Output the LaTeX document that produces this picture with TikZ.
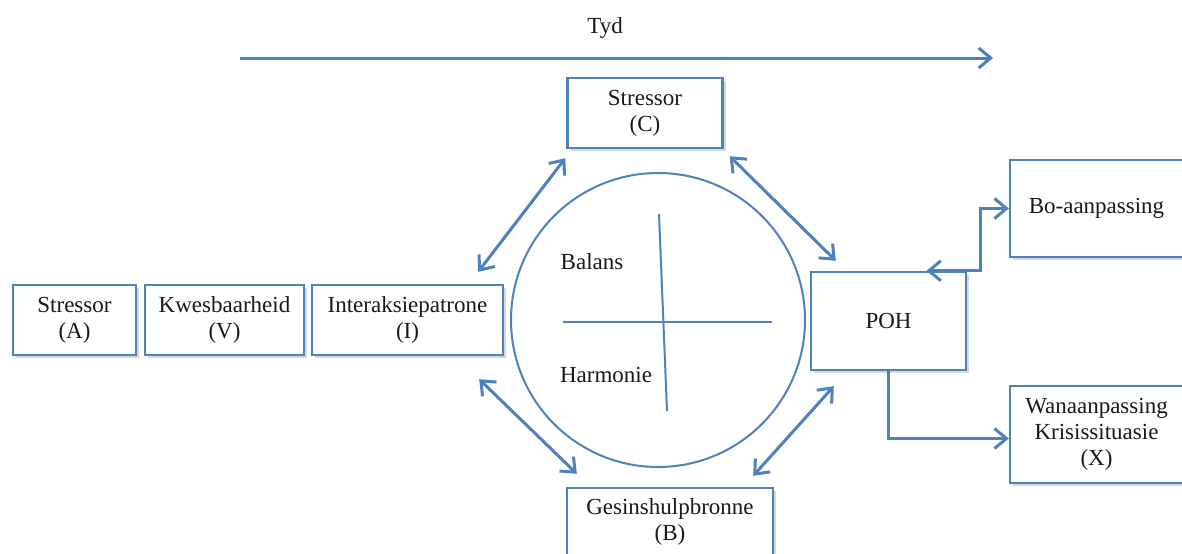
\documentclass[tikz,border=0pt]{standalone}
\usepackage{fontspec}
\setmainfont{Liberation Serif}
\usetikzlibrary{arrows.meta,shadows}
\definecolor{sblue}{RGB}{79,129,189}
\begin{document}
\begin{tikzpicture}[x=0.5pt,y=-0.5pt,
  txt/.style={font=\fontsize{11.5}{13}\selectfont, align=center, text=black!90},
  box/.style={txt, draw=sblue, line width=1.2pt, fill=white, inner sep=0pt,
    drop shadow={opacity=0.3, shadow xshift=1.5pt, shadow yshift=-1.5pt}},
  arr/.style={draw=sblue, line width=1.5pt, -{Straight Barb[length=6pt,width=10pt,line width=1.5pt]}},
  dbl/.style={draw=sblue, line width=1.5pt, {Straight Barb[length=6pt,width=10pt,line width=1.5pt]}-{Straight Barb[length=6pt,width=10pt,line width=1.5pt]}},
  thin/.style={draw=sblue, line width=1pt}]
\useasboundingbox (0,0) rectangle (1182,553);
\fill[white] (0,0) rectangle (1182,553);

% time arrow
\node[txt] (tyd) at (605,28) {Tyd};
\coordinate (t0) at (240,58);
\coordinate (t1) at (993,58);
\draw[arr] (t0) -- (t1);

% circle and cross
\node[circle, thin, minimum size=147pt, inner sep=0pt] (circ) at (658,320) {};
\coordinate (h0) at (563,322);
\coordinate (h1) at (772,322);
\coordinate (v0) at (659,214);
\coordinate (v1) at (667,411);
\draw[thin] (h0) -- (h1);
\draw[thin] (v0) -- (v1);
\node[txt] (bal) at (592,262) {Balans};
\node[txt] (harm) at (606,375) {Harmonie};

% boxes
\node[box, minimum width=61.5pt, minimum height=35pt] (A) at (74.5,320) {Stressor\\(A)};
\node[box, minimum width=79.5pt, minimum height=35pt] (V) at (224.5,320) {Kwesbaarheid\\(V)};
\node[box, minimum width=95.5pt, minimum height=35pt] (I) at (407.5,320) {Interaksiepatrone\\(I)};
\node[box, minimum width=77.5pt, minimum height=35pt] (C) at (645,113) {Stressor\\(C)};
\node[box, minimum width=103pt, minimum height=34pt] (B) at (670,522) {Gesinshulpbronne\\(B)};
\node[box, minimum width=77.5pt, minimum height=49pt] (POH) at (888.5,321) {POH};
\node[box, minimum width=92.5pt, minimum height=48.5pt, text width=92.5pt] (Bo) at (1102.5,208.5) {\hspace*{-6pt}Bo-aanpassing};
\node[box, minimum width=92.5pt, minimum height=48.5pt, text width=92.5pt] (X) at (1102.5,434.5) {\hspace*{-6pt}Wanaanpassing\\\hspace*{-6pt}Krisissituasie\\\hspace*{-6pt}(X)};

% circular double arrows
\draw[dbl] ([shift={(-1,9)}]C.south west) -- ([shift={(-26,-12)}]I.north east);
\draw[dbl] ([shift={(6,7)}]C.south east) -- ([shift={(26,-10)}]POH.north west);
\draw[dbl] ([shift={(-25,23)}]I.south east) -- ([shift={(11,-13)}]B.north west);
\draw[dbl] ([shift={(24,15)}]POH.south west) -- ([shift={(-21,-11)}]B.north east);

% outcome connectors
\coordinate (bk) at ([shift={(-28,0)}]Bo.west);
\draw[dbl] ([shift={(38,0)}]POH.north) -| (bk) -- (Bo.west);
\draw[arr] (POH.south) |- ([shift={(0,4)}]X.west);
\end{tikzpicture}
\end{document}
